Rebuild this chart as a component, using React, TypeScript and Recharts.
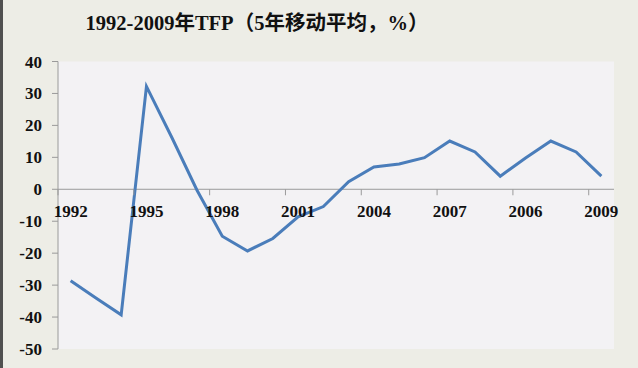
import React from 'react';
import { LineChart, Line, XAxis, YAxis, CartesianGrid, ReferenceLine } from 'recharts';

const TITLE = '1992-2009年TFP（5年移动平均，%）';

const CATEGORIES = [
  '1992', '1993', '1994', '1995', '1996', '1997', '1998', '1999', '2000', '2001', '2002',
  '2003', '2004', '2005', '2006', '2007', '2004', '2005', '2006', '2007', '2008', '2009',
];

const TFP = [
  -28.6, -34.0, -39.3, 32.2, 16.3, -0.3, -14.7, -19.3, -15.4, -8.6, -5.4,
  2.4, 7.0, 7.9, 9.9, 15.1, 11.7, 4.1, 9.8, 15.1, 11.7, 4.1,
];

const Y_TICKS = [-50, -40, -30, -20, -10, 0, 10, 20, 30, 40];

const data = CATEGORIES.map((cat, i) => ({ i, cat, tfp: TFP[i] }));

// layout
const W = 638;
const H = 368;
const MARGIN = { top: 61.5, right: 24, bottom: 0, left: 8 };
const Y_AXIS_W = 50;
const X_AXIS_H = 19;
const PLOT_LEFT = MARGIN.left + Y_AXIS_W;
const PLOT_RIGHT = W - MARGIN.right;
const PLOT_TOP = MARGIN.top;
const PLOT_BOTTOM = H - MARGIN.bottom - X_AXIS_H;
const STEP = (PLOT_RIGHT - PLOT_LEFT) / CATEGORIES.length;
const HALF_STEP = STEP / 2;
const Y_MIN = -50;
const Y_MAX = 40;
const ZERO_Y = PLOT_TOP + ((Y_MAX - 0) / (Y_MAX - Y_MIN)) * (PLOT_BOTTOM - PLOT_TOP);

const AXIS = '#9a9a9a';
const LINE = '#4a7dba';
const FONT = '"Liberation Serif", "Times New Roman", serif';

const XTick = (props: any) => {
  const { x, payload } = props;
  const label = CATEGORIES[payload.value];
  return (
    <g>
      <line x1={x - HALF_STEP} x2={x - HALF_STEP} y1={ZERO_Y} y2={ZERO_Y + 6} stroke={AXIS} strokeWidth={1} />
      <text
        x={x}
        y={ZERO_Y + 22}
        dy="0.355em"
        textAnchor="middle"
        fill="#111"
        fontSize={17}
        fontWeight="bold"
        fontFamily={FONT}
      >
        {label}
      </text>
    </g>
  );
};

export default function App() {
  return (
    <div style={{ position: 'absolute', left: 0, top: 0, width: W, height: H, background: '#edede6', overflow: 'hidden' }}>
      <div style={{ position: 'absolute', left: 0, top: 0, width: 3, height: H, background: '#505050' }} />
      <div
        style={{
          position: 'absolute',
          left: 0,
          top: 12,
          width: 514,
          textAlign: 'center',
          fontFamily: '"Liberation Serif", "Noto Sans CJK SC", serif',
          fontWeight: 'bold',
          fontSize: 20.5,
          lineHeight: '23px',
          color: '#111',
          whiteSpace: 'nowrap',
        }}
      >
        {TITLE}
      </div>
      <LineChart width={W} height={H} data={data} margin={MARGIN}>
        <CartesianGrid horizontal={false} vertical={false} fill="#f3f2f4" />
        <XAxis
          dataKey="i"
          type="category"
          height={X_AXIS_H}
          padding={{ left: HALF_STEP, right: HALF_STEP }}
          axisLine={false}
          tickLine={false}
          interval={2}
          tick={<XTick />}
        />
        <YAxis
          width={Y_AXIS_W}
          domain={[Y_MIN, Y_MAX]}
          ticks={Y_TICKS}
          interval={0}
          axisLine={{ stroke: AXIS }}
          tickLine={{ stroke: AXIS }}
          tickSize={6}
          tickMargin={10}
          tick={{ fill: '#111', fontSize: 17, fontWeight: 'bold', fontFamily: FONT }}
        />
        <ReferenceLine y={0} stroke={AXIS} strokeWidth={1} />
        <Line
          type="linear"
          dataKey="tfp"
          stroke={LINE}
          strokeWidth={3}
          dot={false}
          isAnimationActive={false}
        />
      </LineChart>
    </div>
  );
}
